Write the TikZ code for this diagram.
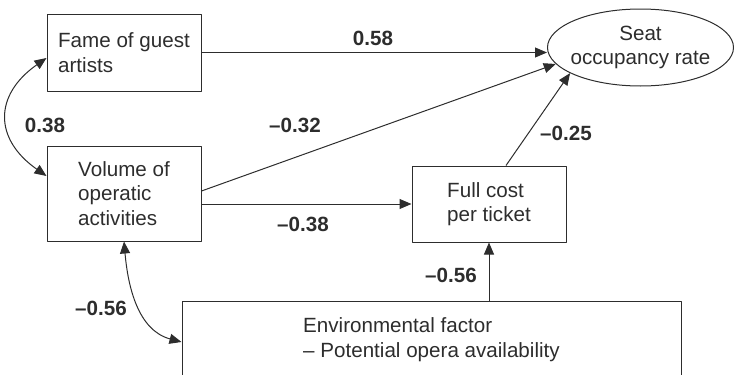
\documentclass[tikz,border=0pt]{standalone}
\usepackage{fontspec}
\setmainfont{Liberation Sans}
\usetikzlibrary{arrows.meta,shapes.geometric}
\definecolor{ink}{RGB}{45,45,45}
\tikzset{
	box/.style={draw=ink, line width=1pt, minimum width=154pt, inner sep=0pt, align=left},
	oval/.style={draw=ink, ellipse, line width=1pt, minimum width=186pt, minimum height=77pt, inner sep=0pt},
	coef/.style={font=\fontsize{20.6}{24.5}\bfseries},
	link/.style={draw=ink, line width=1pt, ->},
}
\begin{document}
\begin{tikzpicture}[x=1pt, y=1pt, line join=round, >={Triangle[length=12pt,width=10pt]}, font=\fontsize{20.6}{24.5}\selectfont, text=ink]
	\useasboundingbox (0,0) rectangle (734,-375);
	% variables
	\node[box, minimum height=77pt] (fame) at (124,-52.5) {Fame of guest\\artists};
	\node[box, minimum height=95pt] (volume) at (124,-193.5) {Volume of\\operatic\\activities};
	\node[box, minimum height=76pt] (cost) at (489,-204) {Full cost\\per ticket};
	\node[box, minimum width=499pt, minimum height=77pt] (env) at (431.5,-339.5) {Environmental factor\\\textendash{} Potential opera availability};
	\node[oval] (seat) at (640.5,-47.5) {};
	\node[align=center] (seattext) at (seat) {Seat\\occupancy rate};
	% paths
	\draw[link] (fame.east) -- (fame.east -| seat.west);
	\draw[link] ([yshift=2.5pt]volume.east) -- (seat.191);
	\draw[link] (volume.east |- cost.west) -- (cost.west);
	\draw[link] ([xshift=17pt]cost.north) -- (seat.200);
	\draw[link] (env.north -| cost.south) -- (cost.south);
	% correlations
	\draw[link, <->] ([yshift=-5.5pt]fame.west) to[out=215, in=145, looseness=1.4] ([yshift=17.5pt]volume.west);
	\draw[link, <->] (volume.south) to[out=-85, in=165] ([yshift=-2.5pt]env.west);
	% coefficients
	\node[coef] (c58) at (373,-38) {0.58};
	\node[coef] (c38) at (45,-125) {0.38};
	\node[coef] (c32) at (295,-125) {\textendash0.32};
	\node[coef] (c38b) at (303,-224) {\textendash0.38};
	\node[coef] (c25) at (566,-133) {\textendash0.25};
	\node[coef] (c56) at (451,-275) {\textendash0.56};
	\node[coef] (c56b) at (101,-308) {\textendash0.56};
\end{tikzpicture}
\end{document}
